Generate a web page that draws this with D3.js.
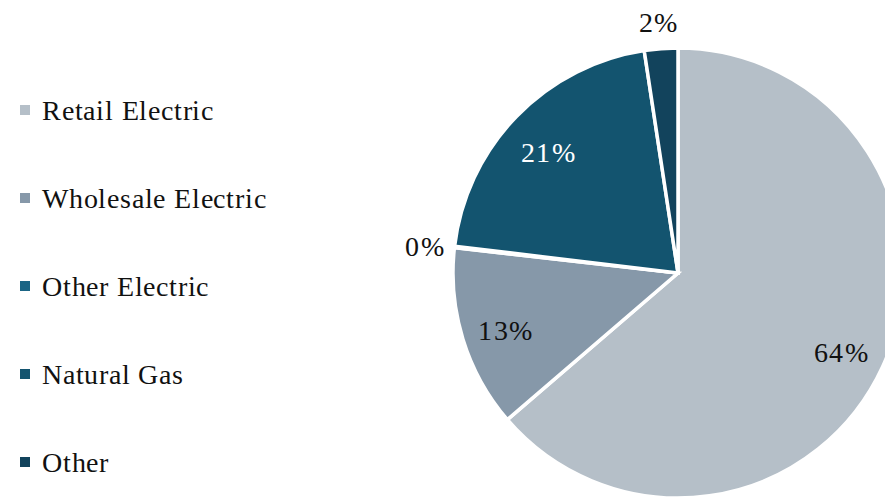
<!DOCTYPE html>
<html>
<head>
<meta charset="utf-8">
<script src="https://cdn.jsdelivr.net/npm/d3@7"></script>
<style>
  @font-face { font-family: "ChartSerif"; src: local("Liberation Serif"), local("LiberationSerif"), local("DejaVu Serif"); }
  html, body { margin: 0; padding: 0; background: #fff; overflow: hidden; font-family: "ChartSerif", "Liberation Serif", serif; }
  svg, svg text { font-family: "ChartSerif", "Liberation Serif", serif !important; }
</style>
</head>
<body>
<svg id="chart" width="885" height="498" font-family="Liberation Serif, serif"></svg>
<script>
// Revenue mix by segment
const categories = ["Retail Electric", "Wholesale Electric", "Other Electric", "Natural Gas", "Other"];
const shares = [63.7, 13.1, 0.1, 20.7, 2.4];
const colors = ["#b5bfc8", "#8698a9", "#1b6585", "#13546f", "#12435c"];
const labelColors = ["#111", "#111", "#111", "#fff", "#111"];
const outsideLabel = [false, false, true, false, true];

const svg = d3.select("#chart");
const cx = 678, cy = 273, radius = 225;

const data = categories.map((c, i) => ({ name: c, value: shares[i], color: colors[i], labelColor: labelColors[i], outside: outsideLabel[i] }));

const pie = d3.pie().value(d => d.value).sort(null);
const arcs = pie(data);
const arc = d3.arc().innerRadius(0).outerRadius(radius);
const inLabelArc = d3.arc().innerRadius(radius * 0.8).outerRadius(radius * 0.8);
const outLabelArc = d3.arc().innerRadius(radius * 1.13).outerRadius(radius * 1.13);

const g = svg.append("g").attr("transform", `translate(${cx},${cy})`);

g.selectAll("path.slice")
  .data(arcs)
  .join("path")
  .attr("class", "slice")
  .attr("d", arc)
  .attr("fill", d => d.data.color)
  .attr("stroke", "#fff")
  .attr("stroke-width", 3.5)
  .attr("stroke-linejoin", "miter");

g.selectAll("text.pct")
  .data(arcs)
  .join("text")
  .attr("class", "pct")
  .style("letter-spacing", "1.5px")
  .attr("font-size", 28)
  .attr("transform", d => `translate(${(d.data.outside ? outLabelArc : inLabelArc).centroid(d)})`)
  .attr("text-anchor", "middle")
  .attr("dy", d => d.data.outside ? "0.45em" : "0.5em")
  .attr("fill", d => d.data.labelColor)
  .text(d => Math.round(d.data.value) + "%");

// Legend
const legend = svg.append("g").attr("transform", "translate(20,110)");
const rowStep = 88;
const items = legend.selectAll("g.item")
  .data(data)
  .join("g")
  .attr("class", "item")
  .attr("transform", (d, i) => `translate(0,${i * rowStep})`);

items.append("rect")
  .attr("x", 0).attr("y", -5)
  .attr("width", 10).attr("height", 10)
  .attr("fill", d => d.color);

items.append("text")
  .style("letter-spacing", "0.8px")
  .attr("font-size", 28)
  .attr("x", 22)
  .attr("dy", "0.35em")
  .attr("fill", "#111")
  .text(d => d.name);
</script>
</body>
</html>
